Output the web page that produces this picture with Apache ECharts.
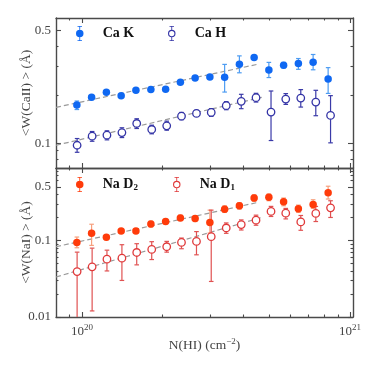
<!DOCTYPE html>
<html><head><meta charset="utf-8">
<script src="https://cdn.jsdelivr.net/npm/echarts@6/dist/echarts.min.js"></script>
<style>html,body{margin:0;padding:0;background:#fff}#c{width:374px;height:374px}</style>
</head><body><div id="c"></div>
<script>
// ---------- data ----------
const xFilled = [0.957e20, 1.086e20, 1.233e20, 1.400e20, 1.589e20, 1.807e20, 2.051e20, 2.328e20, 2.642e20, 2.999e20, 3.404e20, 3.864e20, 4.385e20, 4.977e20, 5.649e20, 6.412e20, 7.278e20, 8.279e20];
const xOpen   = [0.959e20, 1.091e20, 1.239e20, 1.409e20, 1.600e20, 1.820e20, 2.070e20, 2.350e20, 2.673e20, 3.034e20, 3.451e20, 3.926e20, 4.457e20, 5.070e20, 5.754e20, 6.546e20, 7.447e20, 8.453e20];

const caK   = [0.1726, 0.1928, 0.2073, 0.1976, 0.2133, 0.2154, 0.2164, 0.2393, 0.2545, 0.2582, 0.2571, 0.3099, 0.3413, 0.2856, 0.3055, 0.3130, 0.3190, 0.2509];
const caKLo = [0.162, 0.188, 0.202, 0.193, 0.208, 0.210, 0.211, 0.233, 0.249, 0.252, 0.208, 0.274, 0.334, 0.256, 0.294, 0.288, 0.286, 0.204];
const caKHi = [0.183, 0.198, 0.212, 0.203, 0.218, 0.220, 0.221, 0.245, 0.261, 0.264, 0.309, 0.349, 0.348, 0.318, 0.318, 0.336, 0.356, 0.295];

const caH   = [0.0972, 0.1106, 0.1122, 0.1166, 0.1327, 0.1218, 0.1284, 0.1474, 0.1532, 0.1554, 0.1712, 0.1821, 0.1920, 0.1562, 0.1882, 0.1909, 0.1803, 0.1489];
const caHLo = [0.0879, 0.1029, 0.1050, 0.1085, 0.1235, 0.1145, 0.1206, 0.1400, 0.1468, 0.1468, 0.1616, 0.1640, 0.1803, 0.1040, 0.1744, 0.1678, 0.1483, 0.1006];
const caHHi = [0.1070, 0.1183, 0.1195, 0.1248, 0.1420, 0.1295, 0.1372, 0.1554, 0.1600, 0.1640, 0.1813, 0.2014, 0.2043, 0.2112, 0.2034, 0.2154, 0.2133, 0.1976];

const naD2   = [0.0941, 0.1236, 0.1095, 0.1325, 0.1325, 0.1639, 0.1762, 0.1965, 0.1930, 0.1710, 0.2557, 0.2827, 0.3569, 0.3646, 0.3192, 0.2581, 0.2948, 0.4193];
const naD2Lo = [0.0801, 0.0860, 0.1021, 0.128, 0.128, 0.1496, 0.1639, 0.1816, 0.1762, 0.125, 0.2315, 0.2557, 0.3229, 0.3289, 0.2827, 0.2315, 0.2613, 0.3462];
const naD2Hi = [0.1105, 0.1624, 0.1174, 0.137, 0.137, 0.1778, 0.1889, 0.2133, 0.2088, 0.248, 0.2827, 0.3095, 0.3945, 0.4030, 0.3569, 0.2887, 0.3390, 0.5088];

const naD1   = [0.0391, 0.0451, 0.0568, 0.0585, 0.0695, 0.0761, 0.0826, 0.0941, 0.0970, 0.1118, 0.1451, 0.1609, 0.1833, 0.2386, 0.2266, 0.1741, 0.2246, 0.2661];
const naD1Lo = [0.005, 0.0120, 0.0399, 0.0300, 0.0479, 0.0562, 0.0702, 0.0778, 0.0648, 0.0291, 0.1236, 0.1366, 0.1576, 0.2051, 0.1906, 0.1354, 0.1762, 0.1990];
const naD1Hi = [0.0702, 0.0792, 0.0745, 0.0878, 0.0905, 0.0961, 0.0970, 0.1072, 0.1302, 0.2481, 0.1689, 0.1849, 0.2133, 0.2776, 0.2613, 0.2113, 0.2776, 0.3289];

// dashed fit lines (end points)
const fitKx  = [8e19, 4.53e20];  const fitKy  = [0.1671, 0.3099];
const fitHx  = [8e19, 4.68e20];  const fitHy  = [0.0972, 0.1929];
const fitD2x = [8e19, 4.53e20];  const fitD2y = [0.0826, 0.3133];
const fitD1x = [8e19, 4.68e20];  const fitD1y = [0.0333, 0.1990];

// ticks / labels
const xMajor = [1e20, 1e21];
const xMinor = [9e19, 2e20, 3e20, 4e20, 5e20, 6e20, 7e20, 8e20, 9e20];
const yTopLabels = [0.1, 0.5];
const yTopMinor = [0.08, 0.09, 0.2, 0.3, 0.4];
const yBotLabels = [0.01, 0.1, 0.5];
const yBotMinor = [0.02, 0.03, 0.04, 0.05, 0.06, 0.07, 0.08, 0.09, 0.2, 0.3, 0.4, 0.6, 0.7, 0.8];

// ---------- style ----------
const FONT = 'Liberation Serif';
const AX = '#4a4a4a';
const C_K = '#0f68f2', C_Kerr = '#4d9cf2';
const C_H = '#3333a6', C_Herr = '#3a3aa8';
const C_D2 = '#ff3b0a', C_D2err = '#f6a07e';
const C_D1 = '#e0393a', C_D1err = '#e05252';
const X_MIN = 8e19, X_MAX = 1.025e21;
const RANGES = [[0.0702, 0.6], [0.01, 0.88]];

function mkX(grid, pos, ticks, len, line, labels) {
  return {
    type: 'log', logBase: 10, gridIndex: grid, position: pos, min: X_MIN, max: X_MAX,
    axisLine: { show: line, onZero: false, lineStyle: { color: AX, width: 1.4 } },
    axisTick: { show: true, inside: true, length: len, customValues: ticks, lineStyle: { color: AX, width: 1.1 } },
    axisLabel: labels ? {
      show: true, customValues: labels, margin: 6,
      formatter: v => '10{s|' + Math.round(Math.log10(v)) + '}',
      color: '#444', fontFamily: FONT, fontSize: 13,
      rich: { s: { fontSize: 9, verticalAlign: 'top', color: '#444', fontFamily: FONT, padding: [0, 0, 8, 0] } }
    } : { show: false },
    splitLine: { show: false }
  };
}
function mkY(grid, pos, ticks, len, line, labels, name) {
  const r = RANGES[grid];
  const ax = {
    type: 'log', logBase: 10, gridIndex: grid, position: pos, min: r[0], max: r[1],
    axisLine: { show: line, onZero: false, lineStyle: { color: AX, width: 1.4 } },
    axisTick: { show: true, inside: true, length: len, customValues: ticks, lineStyle: { color: AX, width: 1.1 } },
    axisLabel: labels ? {
      show: true, customValues: labels, margin: 5,
      formatter: v => String(v), color: '#444', fontFamily: FONT, fontSize: 13
    } : { show: false },
    splitLine: { show: false }
  };
  if (name) {
    ax.name = name; ax.nameLocation = 'middle'; ax.nameGap = 23; ax.nameMoveOverlap = false;
    ax.nameTextStyle = { color: '#444', fontFamily: FONT, fontSize: 13.5 };
  }
  return ax;
}

const xAxes = [];
const yAxes = [];
for (let g = 0; g < 2; g++) {
  xAxes.push(mkX(g, 'bottom', xMajor, 5, true, g === 1 ? xMajor : null));
  xAxes.push(mkX(g, 'top', xMajor, 5, true, null));
  xAxes.push(mkX(g, 'bottom', xMinor, 2.5, false, null));
  xAxes.push(mkX(g, 'top', xMinor, 2.5, false, null));
  const lab = g === 0 ? yTopLabels : yBotLabels;
  const mnr = g === 0 ? yTopMinor : yBotMinor;
  yAxes.push(mkY(g, 'left', lab, 5, true, lab, g === 0 ? '<W(CaII) > (Å)' : '<W(NaI) > (Å)'));
  yAxes.push(mkY(g, 'right', lab, 5, true, null));
  yAxes.push(mkY(g, 'left', mnr, 2.5, false, null));
  yAxes.push(mkY(g, 'right', mnr, 2.5, false, null));
}
xAxes[4].name = 'N(HI) (cm{s|−2})';
xAxes[4].nameLocation = 'middle';
xAxes[4].nameGap = 20;
xAxes[4].nameMoveOverlap = false;
xAxes[4].nameTextStyle = { color: '#444', fontFamily: FONT, fontSize: 13.5,
  rich: { s: { fontSize: 9, verticalAlign: 'top', color: '#444', fontFamily: FONT, padding: [0, 0, 8, 0] } } };

function zip3(xs, lo, hi) { return xs.map((x, i) => [x, lo[i], hi[i]]); }
function zip2(xs, ys) { return xs.map((x, i) => [x, ys[i]]); }

function errSeries(name, grid, data, color) {
  return {
    type: 'custom', name: name, xAxisIndex: grid * 4, yAxisIndex: grid * 4, clip: true, z: 2,
    data: data, encode: { x: 0, y: [1, 2] },
    renderItem: function (params, api) {
      const x = api.value(0);
      const a = api.coord([x, api.value(1)]);
      const b = api.coord([x, api.value(2)]);
      const w = 2.3;
      const st = { stroke: color, lineWidth: 1.2 };
      return { type: 'group', children: [
        { type: 'line', shape: { x1: a[0], y1: a[1], x2: b[0], y2: b[1] }, style: st },
        { type: 'line', shape: { x1: a[0] - w, y1: a[1], x2: a[0] + w, y2: a[1] }, style: st },
        { type: 'line', shape: { x1: b[0] - w, y1: b[1], x2: b[0] + w, y2: b[1] }, style: st }
      ] };
    }
  };
}
function ptSeries(name, grid, data, color, open) {
  return {
    type: 'scatter', name: name, xAxisIndex: grid * 4, yAxisIndex: grid * 4, z: 3,
    data: data, symbol: 'circle', symbolSize: 7.5,
    itemStyle: open ? { color: '#fff', borderColor: color, borderWidth: 1.3, opacity: 1 }
                    : { color: color, borderWidth: 0, opacity: 1 },
    emphasis: { disabled: true }
  };
}
function fitSeries(grid, xs, ys) {
  return {
    type: 'line', xAxisIndex: grid * 4, yAxisIndex: grid * 4, z: 1, silent: true,
    data: zip2(xs, ys), symbol: 'none',
    lineStyle: { color: '#9a9a9a', width: 1.2, type: [5, 3] }
  };
}

const ICON_FILLED = 'path://M0,8 A4,4 0 1,1 8,8 A4,4 0 1,1 0,8 Z M3.55,0 H4.45 V16 H3.55 Z M1.6,0 H6.4 V0.9 H1.6 Z M1.6,15.1 H6.4 V16 H1.6 Z';
const ICON_OPEN = 'path://M0,8 A4,4 0 1,1 8,8 A4,4 0 1,1 0,8 Z M1.2,8 A2.8,2.8 0 1,0 6.8,8 A2.8,2.8 0 1,0 1.2,8 Z M3.55,0 H4.45 V4 H3.55 Z M3.55,12 H4.45 V16 H3.55 Z M1.6,0 H6.4 V0.9 H1.6 Z M1.6,15.1 H6.4 V16 H1.6 Z';

function mkLegend(name, left, top, icon, color) {
  return {
    left: left, top: top, padding: 0, itemWidth: 8, itemHeight: 15, itemGap: 0, selectedMode: false,
    data: [{ name: name, icon: icon, itemStyle: { color: color, borderWidth: 0, opacity: 1 } }],
    textStyle: { fontFamily: FONT, fontSize: 14, fontWeight: 'bold', color: '#111',
      rich: {
        sp: { width: 14 },
        s: { fontFamily: FONT, fontSize: 9, fontWeight: 'bold', color: '#111', verticalAlign: 'bottom', padding: [6, 0, 0, 0] }
      } },
    formatter: n => '{sp|}' + n.replace(/D(\d)$/, 'D{s|$1}')
  };
}

const option = {
  animation: false,
  backgroundColor: '#fff',
  grid: [
    { left: 56, top: 18, width: 297, height: 150, containLabel: false },
    { left: 56, top: 168, width: 297, height: 149, containLabel: false }
  ],
  xAxis: xAxes,
  yAxis: yAxes,
  legend: [
    mkLegend('Ca K', 76, 26, ICON_FILLED, C_K),
    mkLegend('Ca H', 168, 26, ICON_OPEN, C_H),
    mkLegend('Na D2', 76, 177, ICON_FILLED, C_D2),
    mkLegend('Na D1', 173, 177, ICON_OPEN, C_D1)
  ],
  series: [
    fitSeries(0, fitKx, fitKy),
    fitSeries(0, fitHx, fitHy),
    fitSeries(1, fitD2x, fitD2y),
    fitSeries(1, fitD1x, fitD1y),
    errSeries('Ca K err', 0, zip3(xFilled, caKLo, caKHi), C_Kerr),
    errSeries('Ca H err', 0, zip3(xOpen, caHLo, caHHi), C_Herr),
    errSeries('Na D2 err', 1, zip3(xFilled, naD2Lo, naD2Hi), C_D2err),
    errSeries('Na D1 err', 1, zip3(xOpen, naD1Lo, naD1Hi), C_D1err),
    ptSeries('Ca K', 0, zip2(xFilled, caK), C_K, false),
    ptSeries('Ca H', 0, zip2(xOpen, caH), C_H, true),
    ptSeries('Na D2', 1, zip2(xFilled, naD2), C_D2, false),
    ptSeries('Na D1', 1, zip2(xOpen, naD1), C_D1, true)
  ]
};
const chart = echarts.init(document.getElementById('c'));
chart.setOption(option);
</script>
</body></html>
